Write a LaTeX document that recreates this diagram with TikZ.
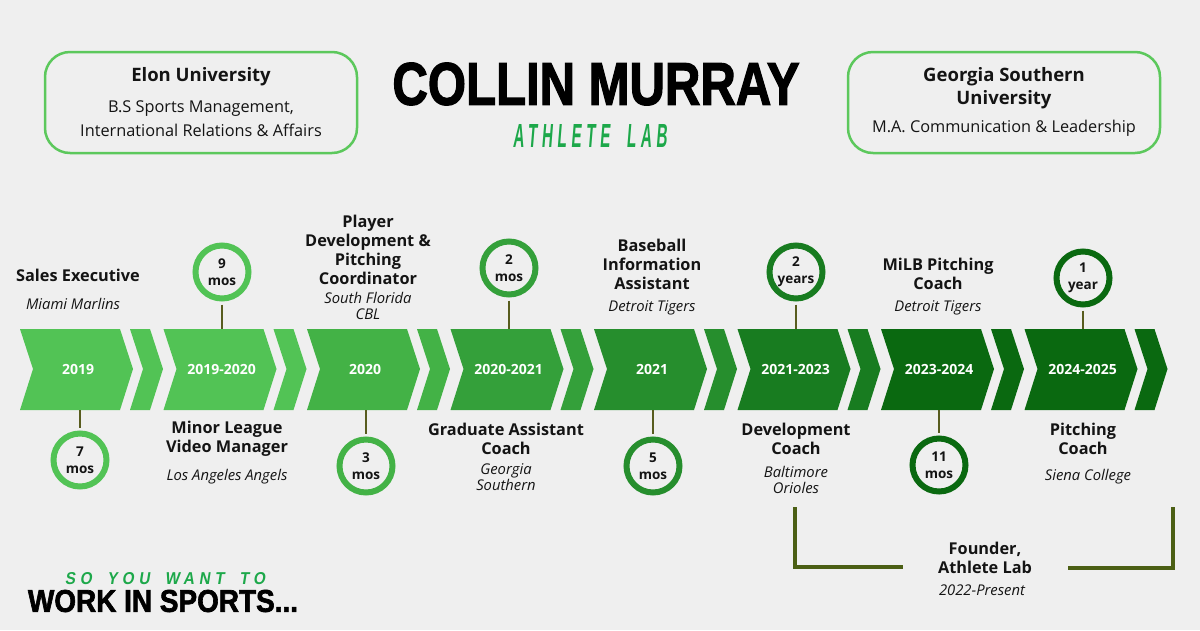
\documentclass[tikz,border=0pt]{standalone}
\usepackage{fontspec}
\usepackage{tikz}
\setmainfont{Open Sans}
\newfontfamily\heavyfont[FakeBold=2.2]{Liberation Sans}
\newfontfamily\slimfont[FakeSlant=0.18,LetterSpace=30]{Liberation Sans}
\usetikzlibrary{positioning,calc}
\definecolor{bgGray}   {RGB}{239, 239, 239}
\definecolor{chA}      {RGB}{ 82, 195,  85}
\definecolor{chB}      {RGB}{ 67, 178,  70}
\definecolor{chC}      {RGB}{ 52, 160,  58}
\definecolor{chD}      {RGB}{ 38, 142,  45}
\definecolor{chE}      {RGB}{ 24, 124,  32}
\definecolor{chF}      {RGB}{ 10, 105,  16}
\definecolor{boxGreen} {RGB}{ 92, 200,  92}
\definecolor{labGreen} {RGB}{ 29, 168,  74}
\definecolor{stemOlive}{RGB}{ 88,  92,  30}
\definecolor{brkOlive} {RGB}{ 75,  95,  20}
\definecolor{inkBlack} {RGB}{ 20,  20,  20}

\begin{document}
\begin{tikzpicture}[x=1pt,y=-1pt,
    yearlbl/.style={font=\fontsize{14}{16}\selectfont\bfseries,text=white,
      minimum width=113,minimum height=81,inner sep=0},
    ring/.style={circle,line width=6pt,fill=bgGray,minimum size=53,
      inner sep=0,align=center,text=inkBlack,
      font=\fontsize{13.5}{17}\selectfont\bfseries},
    stem/.style={stemOlive,line width=2pt,shorten <=3pt},
    rolelbl/.style={align=center,text=inkBlack,inner sep=0,
      font=\fontsize{16.3}{19}\selectfont\bfseries},
    orglbl/.style={align=center,text=inkBlack,inner sep=0,
      font=\fontsize{14.8}{16}\selectfont\itshape},
    unibox/.style={draw=boxGreen,line width=2.5pt,rounded corners=25pt,
      minimum width=312,minimum height=101},
    unititle/.style={align=center,text=inkBlack,inner sep=0,
      font=\fontsize{18.5}{23}\selectfont\bfseries},
    unitext/.style={align=center,text=inkBlack,inner sep=0,
      font=\fontsize{16.3}{24}\selectfont},
    bracket/.style={brkOlive,line width=3.5pt}]

    \fill[bgGray] (0,0) rectangle (1200,630);
    \useasboundingbox (0,0) rectangle (1200,630);

    % header
    \node[unibox] (elonbox) at (201,102.5) {};
    \node[unititle] (elon) at (201,77) {Elon University};
    \node[unitext] (elondeg) at (201,119)
      {B.S Sports Management,\\International Relations \& Affairs};
    \node[unibox] (gsbox) at (1004,102.5) {};
    \node[unititle] (gs) at (1004,88.5) {Georgia Southern\\University};
    \node[unitext] (gsdeg) at (1004,128) {M.A. Communication \& Leadership};

    \node[inner sep=0,text=black] (title) at (596,84)
      {\resizebox{407pt}{42pt}{\heavyfont\bfseries COLLIN MURRAY}};
    \node[inner sep=0,text=labGreen] (subtitle) at (590,135.5)
      {\resizebox{154pt}{23pt}{\slimfont\bfseries ATHLETE\hspace{1.1em}LAB}};

    % chevrons
    \foreach \i/\xa/\yr/\cor in {
      1/20/2019/chA, 2/163.5/2019-2020/chA, 3/307/2020/chB,
      4/450.5/2020-2021/chC, 5/594/2021/chD, 6/737.5/2021-2023/chE,
      7/881/2023-2024/chF, 8/1024.5/2024-2025/chF}{
      \fill[\cor] (\xa,329) -- ++(100,0) -- ++(13,40) -- ++(-13,41)
        -- ++(-100,0) -- ++(13,-41) -- cycle;
      \fill[\cor] (\xa+110,329) -- ++(20,0) -- ++(13,40) -- ++(-13,41)
        -- ++(-20,0) -- ++(13,-41) -- cycle;
      \node[yearlbl] (y\i) at (\xa+58,369.5) {\yr};
    }

    % durations
    \foreach \i/\cx/\cy/\num/\unit/\cor/\side in {
      1/80/460/7/mos/chA/south, 2/222/272/9/mos/chA/north,
      3/366/466/3/mos/chB/south, 4/509/268/2/mos/chC/north,
      5/653/466/5/mos/chD/south, 6/796/272/2/years/chE/north,
      7/939/465/11/mos/chF/south, 8/1083/278/1/year/chF/north}{
      \node[ring,draw=\cor] (c\i) at (\cx,\cy) {\num\\\unit};
      \draw[stem] (c\i) -- (y\i.\side -| c\i);
    }

    % roles
    \foreach \i/\xt/\yt/\title/\xo/\yo/\org in {
      1/78/275/{Sales Executive}/73/304/{Miami Marlins},
      2/227/439/{Minor League\\Video Manager}/227/477/{Los Angeles Angels},
      3/368/249.5/{Player\\Development \&\\Pitching\\Coordinator}/368/306/{South Florida\\CBL},
      4/506/439/{Graduate Assistant\\Coach}/506/477/{Georgia\\Southern},
      5/652/264/{Baseball\\Information\\Assistant}/652/308/{Detroit Tigers},
      6/796/439/{Development\\Coach}/796/479.5/{Baltimore\\Orioles},
      7/938/273.5/{MiLB Pitching\\Coach}/938/308/{Detroit Tigers},
      8/1083/439/{Pitching\\Coach}/1088/477/{Siena College}}{
      \node[rolelbl] (t\i) at (\xt,\yt) {\title};
      \node[orglbl] (o\i) at (\xo,\yo) {\org};
    }

    % founder bracket
    \node[rolelbl] (founder) at (985,558) {Founder,\\Athlete Lab};
    \node[orglbl] (founderyr) at (982,590) {2022-Present};
    \draw[bracket] (795,507) |- (903,567);
    \draw[bracket] (1068,568) -| (1173,507);

    % footer
    \node[inner sep=0,text=labGreen] (tagline) at (165,579)
      {\resizebox{200pt}{12pt}{\slimfont\bfseries SO\hspace{1em}YOU\hspace{1em}WANT\hspace{1em}TO}};
    \node[inner sep=0,text=black] (worktext) at (163,601)
      {\resizebox{270pt}{22pt}{\heavyfont\bfseries WORK IN SPORTS...}};

\end{tikzpicture}
\end{document}
